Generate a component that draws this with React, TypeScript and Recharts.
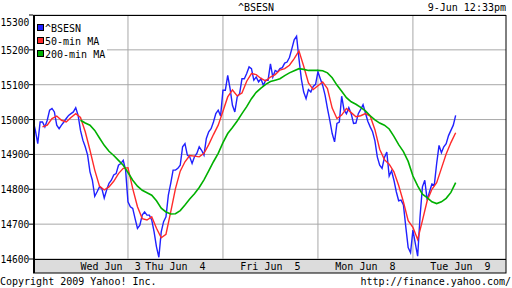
import {
  CartesianGrid,
  Legend,
  Line,
  LineChart,
  ReferenceLine,
  XAxis,
  YAxis
} from 'recharts';

// day labels on the x axis
const dayLabels = ['Wed Jun  3', 'Thu Jun  4', 'Fri Jun  5', 'Mon Jun  8', 'Tue Jun  9'];
const dayCenters = [0.5, 1.5, 2.5, 3.5, 4.5];
const dayBreaks = [1, 2, 3, 4];

const yTicks = [14600, 14700, 14800, 14900, 15000, 15100, 15200, 15300];

// ^BSESN intraday, one reading every 1/40 of a session
const priceWed = [14998, 14969, 14931, 14993, 14993, 14979, 14998, 15027, 15032, 15022, 14984, 14974, 14984, 14993, 15003, 15012, 15017, 15022, 15034, 15012, 14969, 14941, 14922, 14898, 14850, 14826, 14780, 14793, 14807, 14802, 14775, 14798, 14817, 14826, 14841, 14845, 14869, 14874, 14883, 14855];
const priceThu = [14764, 14750, 14745, 14716, 14688, 14697, 14726, 14735, 14726, 14726, 14712, 14678, 14635, 14605, 14678, 14707, 14721, 14783, 14817, 14855, 14855, 14860, 14869, 14922, 14931, 14898, 14893, 14874, 14893, 14903, 14922, 14912, 14898, 14946, 14965, 14974, 14993, 15017, 15027, 15010];
const priceFri = [15084, 15084, 15127, 15089, 15041, 15022, 15065, 15074, 15117, 15117, 15132, 15151, 15146, 15113, 15122, 15108, 15117, 15098, 15113, 15113, 15160, 15122, 15141, 15137, 15146, 15149, 15162, 15165, 15178, 15203, 15229, 15239, 15175, 15117, 15079, 15060, 15086, 15079, 15095, 15101];
const priceMon = [15137, 15117, 15098, 15070, 15032, 14998, 14960, 14936, 14989, 14993, 15067, 15027, 15017, 15034, 15017, 14989, 14990, 15017, 15029, 15043, 15019, 14995, 14979, 14965, 14939, 14893, 14869, 14860, 14891, 14907, 14838, 14853, 14826, 14793, 14767, 14769, 14755, 14692, 14633, 14618];
const priceTue = [14683, 14645, 14608, 14721, 14807, 14826, 14769, 14793, 14815, 14812, 14874, 14926, 14905, 14922, 14931, 14954, 14969, 14984, 15012];
const priceStep = 0.025;

// moving averages, one reading every 1/20 of a session
const ma50Start = 0.1;
const ma50Values = [
  14979, 14984, 15003, 15010, 14998, 14993, 15006, 15017, 15006, 14965, 14912, 14855, 14809, 14798, 14807, 14823, 14845, 14860,
  14862, 14802, 14750, 14716, 14712, 14721, 14688, 14661, 14671, 14735, 14802, 14852, 14879, 14897, 14895, 14893, 14903, 14928, 14957, 14984,
  15024, 15065, 15085, 15068, 15076, 15110, 15132, 15129, 15118, 15111, 15122, 15129, 15142, 15146, 15156, 15175, 15197, 15153, 15105, 15086,
  15097, 15108, 15089, 15033, 15003, 15013, 15032, 15020, 15008, 15011, 15017, 15010, 14971, 14915, 14885, 14872, 14850, 14811, 14764, 14710,
  14691, 14656, 14710, 14767, 14800, 14819, 14860, 14901, 14934, 14962
];
const ma200Start = 0.5;
const ma200Values = [
  14998, 14990, 14984, 14969, 14947, 14926, 14909, 14897, 14883, 14869,
  14848, 14826, 14809, 14797, 14790, 14783, 14767, 14746, 14735, 14729, 14730, 14739, 14755, 14772, 14787, 14805, 14827, 14853, 14879, 14903,
  14934, 14960, 14977, 14996, 15017, 15037, 15060, 15078, 15090, 15101, 15109, 15113, 15117, 15126, 15134, 15140, 15146, 15144, 15141, 15141,
  15141, 15140, 15134, 15120, 15099, 15081, 15063, 15051, 15044, 15035, 15025, 15011, 14999, 14990, 14984, 14973, 14952, 14928, 14908, 14880,
  14838, 14810, 14786, 14776, 14764, 14759, 14764, 14774, 14791, 14819
];
const maStep = 0.05;

const BLUE = '#2020ff';
const RED = '#ff2a2a';
const GREEN = '#00b000';
const GRID = '#a8a8a8';
const FONT = '"DejaVu Sans Mono", monospace';

const priceData = [priceWed, priceThu, priceFri, priceMon, priceTue].flatMap((vals, d) =>
  vals.map((v, i) => ({ t: d + i * priceStep, v }))
);
const ma50Data = ma50Values.map((v, i) => ({ t: ma50Start + i * maStep, v }));
const ma200Data = ma200Values.map((v, i) => ({ t: ma200Start + i * maStep, v }));

const legendItems = [
  { name: '^BSESN', color: BLUE },
  { name: '50-min MA', color: RED },
  { name: '200-min MA', color: GREEN }
];

const LegendBox = () => (
  <div style={{ background: '#fff', width: 73, height: 44 }}>
    <svg width={73} height={44}>
      {legendItems.map((item, i) => (
        <g key={item.name}>
          <rect x={3.5} y={8.5 + i * 13} width={6} height={6} fill={item.color} stroke="#000" />
          <text x={11} y={15.5 + i * 13} fontFamily={FONT} fontSize={10} fill="#000">{item.name}</text>
        </g>
      ))}
    </svg>
  </div>
);

// labels hug the left edge of the picture, as in the original
const YTick = ({ y, payload }: any) => (
  <text
    x={0.5}
    y={payload.value === 15300 ? 25.5 : y + 4}
    textAnchor="start"
    fontFamily={FONT}
    fontSize={9.6}
    fill="#000"
  >
    {payload.value}
  </text>
);

const XTick = ({ x, y, payload, index }: any) => (
  <text
    x={x}
    y={y + 11}
    textAnchor={index === 0 ? 'start' : 'middle'}
    fontFamily={FONT}
    fontSize={10}
    fill="#000"
    style={{ whiteSpace: 'pre' }}
  >
    {dayLabels[dayCenters.indexOf(payload.value)]}
  </text>
);

export default function App() {
  return (
    <div style={{ position: 'absolute', left: 0, top: 0, width: 512, height: 288, background: '#fff' }}>
      <svg width={512} height={288} style={{ position: 'absolute', left: 0, top: 0 }}>
        <rect x={33} y={259} width={473} height={14} fill="#dcdcdc" />
      </svg>
      <div style={{ position: 'absolute', left: 0, top: 0 }}>
        <LineChart width={512} height={288} margin={{ top: 15, right: 6, bottom: 15, left: 0 }}>
          <CartesianGrid vertical={false} stroke={GRID} />
          <XAxis
            dataKey="t"
            type="number"
            domain={[0, 4.98]}
            ticks={dayCenters}
            height={14}
            tickSize={0}
            tickMargin={0}
            axisLine={false}
            tickLine={false}
            tick={<XTick />}
            allowDataOverflow
          />
          <YAxis
            type="number"
            domain={[14600, 15300]}
            ticks={yTicks}
            width={33}
            tickSize={4}
            tickMargin={1}
            axisLine={false}
            tickLine={{ stroke: '#000' }}
            tick={<YTick />}
            allowDataOverflow
          />
          {dayBreaks.map((d) => (
            <ReferenceLine key={d} x={d} stroke={GRID} />
          ))}
          <Line data={priceData} dataKey="v" type="linear" stroke={BLUE} strokeWidth={1.4} dot={false} isAnimationActive={false} />
          <Line data={ma50Data} dataKey="v" type="linear" stroke={RED} strokeWidth={1.4} dot={false} isAnimationActive={false} />
          <Line data={ma200Data} dataKey="v" type="linear" stroke={GREEN} strokeWidth={1.6} dot={false} isAnimationActive={false} />
          <Legend
            layout="vertical"
            align="center"
            verticalAlign="middle"
            wrapperStyle={{ left: 34, top: 16, width: 73, height: 44 }}
            content={() => <LegendBox />}
          />
        </LineChart>
      </div>
      <svg width={512} height={288} style={{ position: 'absolute', left: 0, top: 0, pointerEvents: 'none' }}>
        <rect x={33.5} y={15.5} width={472.5} height={257.5} fill="none" stroke="#000" />
        <line x1={34} y1={15} x2={34} y2={273} stroke="#000" strokeWidth={2} />
        <line x1={33} y1={259.5} x2={506} y2={259.5} stroke="#000" />
        <g fontFamily={FONT} fontSize={10} fill="#000">
          <text x={256} y={10.5} textAnchor="middle">^BSESN</text>
          <text x={506} y={10.5} textAnchor="end">9-Jun 12:33pm</text>
          <text x={0} y={285} style={{ whiteSpace: 'pre' }}>Copyright 2009 Yahoo! Inc.</text>
          <text x={511} y={285} textAnchor="end">http://finance.yahoo.com/</text>
        </g>
      </svg>
    </div>
  );
}
